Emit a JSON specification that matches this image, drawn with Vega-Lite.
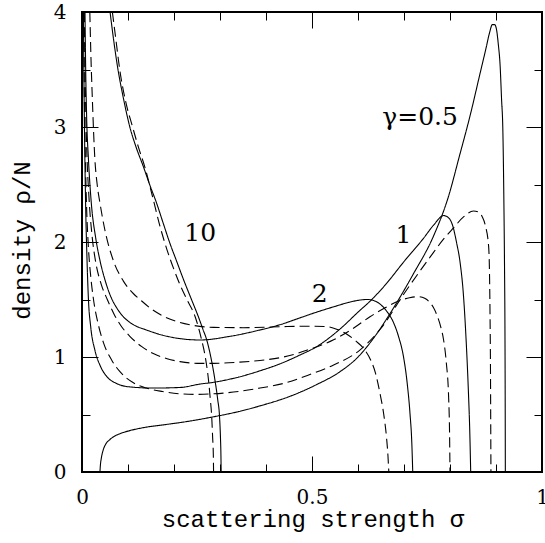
{
  "$schema": "https://vega.github.io/schema/vega-lite/v6.json",
  "width": 460,
  "height": 460,
  "autosize": "none",
  "padding": {"left": 82, "top": 12, "right": 3, "bottom": 71},
  "config": {"view": {"stroke": "black", "strokeWidth": 2}, "font": "DejaVu Serif"},
  "datasets": {
    "curves": [
      {"gamma":"0.5","set":"a","s":0.039,"r":0},{"gamma":"0.5","set":"a","s":0.040,"r":0.06},{"gamma":"0.5","set":"a","s":0.042,"r":0.12},{"gamma":"0.5","set":"a","s":0.046,"r":0.19},{"gamma":"0.5","set":"a","s":0.052,"r":0.245},{"gamma":"0.5","set":"a","s":0.06,"r":0.28},{"gamma":"0.5","set":"a","s":0.068,"r":0.305},{"gamma":"0.5","set":"a","s":0.085,"r":0.337},{"gamma":"0.5","set":"a","s":0.104,"r":0.36},{"gamma":"0.5","set":"a","s":0.14,"r":0.39},{"gamma":"0.5","set":"a","s":0.177,"r":0.41},{"gamma":"0.5","set":"a","s":0.23,"r":0.44},{"gamma":"0.5","set":"a","s":0.286,"r":0.48},{"gamma":"0.5","set":"a","s":0.34,"r":0.525},{"gamma":"0.5","set":"a","s":0.387,"r":0.575},{"gamma":"0.5","set":"a","s":0.45,"r":0.655},{"gamma":"0.5","set":"a","s":0.51,"r":0.76},{"gamma":"0.5","set":"a","s":0.56,"r":0.87},{"gamma":"0.5","set":"a","s":0.60,"r":1.0},{"gamma":"0.5","set":"a","s":0.635,"r":1.17},{"gamma":"0.5","set":"a","s":0.67,"r":1.38},{"gamma":"0.5","set":"a","s":0.72,"r":1.72},{"gamma":"0.5","set":"a","s":0.764,"r":2.05},{"gamma":"0.5","set":"a","s":0.797,"r":2.40},{"gamma":"0.5","set":"a","s":0.82,"r":2.74},{"gamma":"0.5","set":"a","s":0.845,"r":3.12},{"gamma":"0.5","set":"a","s":0.865,"r":3.46},{"gamma":"0.5","set":"a","s":0.878,"r":3.68},{"gamma":"0.5","set":"a","s":0.886,"r":3.82},{"gamma":"0.5","set":"a","s":0.892,"r":3.89},{"gamma":"0.5","set":"a","s":0.897,"r":3.89},{"gamma":"0.5","set":"a","s":0.901,"r":3.85},{"gamma":"0.5","set":"a","s":0.905,"r":3.72},{"gamma":"0.5","set":"a","s":0.909,"r":3.53},{"gamma":"0.5","set":"a","s":0.912,"r":3.25},{"gamma":"0.5","set":"a","s":0.915,"r":2.95},{"gamma":"0.5","set":"a","s":0.917,"r":2.40},{"gamma":"0.5","set":"a","s":0.9185,"r":1.8},{"gamma":"0.5","set":"a","s":0.9195,"r":1.2},{"gamma":"0.5","set":"a","s":0.92,"r":0.6},{"gamma":"0.5","set":"a","s":0.9203,"r":0},

      {"gamma":"1","set":"a","s":0.003,"r":4.0},{"gamma":"1","set":"a","s":0.0045,"r":3.3},{"gamma":"1","set":"a","s":0.006,"r":2.8},{"gamma":"1","set":"a","s":0.008,"r":2.3},{"gamma":"1","set":"a","s":0.0105,"r":1.9},{"gamma":"1","set":"a","s":0.014,"r":1.5},{"gamma":"1","set":"a","s":0.019,"r":1.26},{"gamma":"1","set":"a","s":0.028,"r":1.06},{"gamma":"1","set":"a","s":0.04,"r":0.92},{"gamma":"1","set":"a","s":0.054,"r":0.83},{"gamma":"1","set":"a","s":0.075,"r":0.77},{"gamma":"1","set":"a","s":0.104,"r":0.74},{"gamma":"1","set":"a","s":0.155,"r":0.73},{"gamma":"1","set":"a","s":0.213,"r":0.735},{"gamma":"1","set":"a","s":0.257,"r":0.765},{"gamma":"1","set":"a","s":0.286,"r":0.78},{"gamma":"1","set":"a","s":0.34,"r":0.825},{"gamma":"1","set":"a","s":0.387,"r":0.88},{"gamma":"1","set":"a","s":0.43,"r":0.94},{"gamma":"1","set":"a","s":0.47,"r":1.01},{"gamma":"1","set":"a","s":0.51,"r":1.09},{"gamma":"1","set":"a","s":0.56,"r":1.24},{"gamma":"1","set":"a","s":0.60,"r":1.39},{"gamma":"1","set":"a","s":0.63,"r":1.50},{"gamma":"1","set":"a","s":0.66,"r":1.63},{"gamma":"1","set":"a","s":0.70,"r":1.83},{"gamma":"1","set":"a","s":0.742,"r":2.03},{"gamma":"1","set":"a","s":0.765,"r":2.15},{"gamma":"1","set":"a","s":0.786,"r":2.23},{"gamma":"1","set":"a","s":0.797,"r":2.21},{"gamma":"1","set":"a","s":0.806,"r":2.14},{"gamma":"1","set":"a","s":0.814,"r":2.0},{"gamma":"1","set":"a","s":0.822,"r":1.82},{"gamma":"1","set":"a","s":0.829,"r":1.55},{"gamma":"1","set":"a","s":0.835,"r":1.15},{"gamma":"1","set":"a","s":0.84,"r":0.7},{"gamma":"1","set":"a","s":0.843,"r":0.35},{"gamma":"1","set":"a","s":0.845,"r":0},

      {"gamma":"2","set":"a","s":0.0065,"r":4.0},{"gamma":"2","set":"a","s":0.008,"r":3.5},{"gamma":"2","set":"a","s":0.01,"r":3.1},{"gamma":"2","set":"a","s":0.014,"r":2.72},{"gamma":"2","set":"a","s":0.02,"r":2.35},{"gamma":"2","set":"a","s":0.03,"r":2.03},{"gamma":"2","set":"a","s":0.039,"r":1.84},{"gamma":"2","set":"a","s":0.05,"r":1.67},{"gamma":"2","set":"a","s":0.062,"r":1.53},{"gamma":"2","set":"a","s":0.075,"r":1.43},{"gamma":"2","set":"a","s":0.09,"r":1.35},{"gamma":"2","set":"a","s":0.11,"r":1.285},{"gamma":"2","set":"a","s":0.14,"r":1.235},{"gamma":"2","set":"a","s":0.175,"r":1.19},{"gamma":"2","set":"a","s":0.213,"r":1.16},{"gamma":"2","set":"a","s":0.257,"r":1.148},{"gamma":"2","set":"a","s":0.322,"r":1.18},{"gamma":"2","set":"a","s":0.387,"r":1.235},{"gamma":"2","set":"a","s":0.43,"r":1.28},{"gamma":"2","set":"a","s":0.47,"r":1.335},{"gamma":"2","set":"a","s":0.51,"r":1.39},{"gamma":"2","set":"a","s":0.55,"r":1.44},{"gamma":"2","set":"a","s":0.58,"r":1.475},{"gamma":"2","set":"a","s":0.604,"r":1.495},{"gamma":"2","set":"a","s":0.62,"r":1.50},{"gamma":"2","set":"a","s":0.635,"r":1.49},{"gamma":"2","set":"a","s":0.648,"r":1.46},{"gamma":"2","set":"a","s":0.662,"r":1.40},{"gamma":"2","set":"a","s":0.676,"r":1.31},{"gamma":"2","set":"a","s":0.688,"r":1.18},{"gamma":"2","set":"a","s":0.699,"r":1.0},{"gamma":"2","set":"a","s":0.707,"r":0.77},{"gamma":"2","set":"a","s":0.713,"r":0.51},{"gamma":"2","set":"a","s":0.717,"r":0.25},{"gamma":"2","set":"a","s":0.719,"r":0},

      {"gamma":"10","set":"a","s":0.061,"r":4.0},{"gamma":"10","set":"a","s":0.069,"r":3.75},{"gamma":"10","set":"a","s":0.077,"r":3.53},{"gamma":"10","set":"a","s":0.09,"r":3.25},{"gamma":"10","set":"a","s":0.104,"r":3.0},{"gamma":"10","set":"a","s":0.118,"r":2.82},{"gamma":"10","set":"a","s":0.133,"r":2.66},{"gamma":"10","set":"a","s":0.147,"r":2.5},{"gamma":"10","set":"a","s":0.162,"r":2.34},{"gamma":"10","set":"a","s":0.176,"r":2.17},{"gamma":"10","set":"a","s":0.191,"r":1.99},{"gamma":"10","set":"a","s":0.206,"r":1.83},{"gamma":"10","set":"a","s":0.221,"r":1.67},{"gamma":"10","set":"a","s":0.238,"r":1.5},{"gamma":"10","set":"a","s":0.253,"r":1.35},{"gamma":"10","set":"a","s":0.263,"r":1.24},{"gamma":"10","set":"a","s":0.271,"r":1.15},{"gamma":"10","set":"a","s":0.28,"r":1.0},{"gamma":"10","set":"a","s":0.289,"r":0.80},{"gamma":"10","set":"a","s":0.295,"r":0.63},{"gamma":"10","set":"a","s":0.299,"r":0.48},{"gamma":"10","set":"a","s":0.301,"r":0.3},{"gamma":"10","set":"a","s":0.302,"r":0.15},{"gamma":"10","set":"a","s":0.3025,"r":0},

      {"gamma":"0.5","set":"b","s":0.0035,"r":4.0},{"gamma":"0.5","set":"b","s":0.005,"r":3.3},{"gamma":"0.5","set":"b","s":0.007,"r":2.8},{"gamma":"0.5","set":"b","s":0.01,"r":2.3},{"gamma":"0.5","set":"b","s":0.014,"r":1.95},{"gamma":"0.5","set":"b","s":0.019,"r":1.7},{"gamma":"0.5","set":"b","s":0.025,"r":1.5},{"gamma":"0.5","set":"b","s":0.035,"r":1.29},{"gamma":"0.5","set":"b","s":0.047,"r":1.12},{"gamma":"0.5","set":"b","s":0.065,"r":0.97},{"gamma":"0.5","set":"b","s":0.083,"r":0.87},{"gamma":"0.5","set":"b","s":0.11,"r":0.78},{"gamma":"0.5","set":"b","s":0.14,"r":0.73},{"gamma":"0.5","set":"b","s":0.175,"r":0.70},{"gamma":"0.5","set":"b","s":0.213,"r":0.68},{"gamma":"0.5","set":"b","s":0.25,"r":0.675},{"gamma":"0.5","set":"b","s":0.286,"r":0.68},{"gamma":"0.5","set":"b","s":0.34,"r":0.70},{"gamma":"0.5","set":"b","s":0.387,"r":0.73},{"gamma":"0.5","set":"b","s":0.438,"r":0.77},{"gamma":"0.5","set":"b","s":0.49,"r":0.84},{"gamma":"0.5","set":"b","s":0.547,"r":0.93},{"gamma":"0.5","set":"b","s":0.604,"r":1.06},{"gamma":"0.5","set":"b","s":0.65,"r":1.25},{"gamma":"0.5","set":"b","s":0.70,"r":1.55},{"gamma":"0.5","set":"b","s":0.757,"r":1.87},{"gamma":"0.5","set":"b","s":0.785,"r":2.02},{"gamma":"0.5","set":"b","s":0.807,"r":2.12},{"gamma":"0.5","set":"b","s":0.83,"r":2.22},{"gamma":"0.5","set":"b","s":0.851,"r":2.27},{"gamma":"0.5","set":"b","s":0.862,"r":2.26},{"gamma":"0.5","set":"b","s":0.87,"r":2.22},{"gamma":"0.5","set":"b","s":0.877,"r":2.14},{"gamma":"0.5","set":"b","s":0.884,"r":1.96},{"gamma":"0.5","set":"b","s":0.886,"r":1.7},{"gamma":"0.5","set":"b","s":0.887,"r":1.38},{"gamma":"0.5","set":"b","s":0.888,"r":0.9},{"gamma":"0.5","set":"b","s":0.8885,"r":0.45},{"gamma":"0.5","set":"b","s":0.889,"r":0},

      {"gamma":"1","set":"b","s":0.005,"r":4.0},{"gamma":"1","set":"b","s":0.007,"r":3.4},{"gamma":"1","set":"b","s":0.01,"r":2.85},{"gamma":"1","set":"b","s":0.015,"r":2.4},{"gamma":"1","set":"b","s":0.022,"r":2.05},{"gamma":"1","set":"b","s":0.03,"r":1.82},{"gamma":"1","set":"b","s":0.042,"r":1.63},{"gamma":"1","set":"b","s":0.055,"r":1.5},{"gamma":"1","set":"b","s":0.07,"r":1.37},{"gamma":"1","set":"b","s":0.085,"r":1.27},{"gamma":"1","set":"b","s":0.104,"r":1.18},{"gamma":"1","set":"b","s":0.13,"r":1.09},{"gamma":"1","set":"b","s":0.155,"r":1.03},{"gamma":"1","set":"b","s":0.185,"r":0.985},{"gamma":"1","set":"b","s":0.213,"r":0.96},{"gamma":"1","set":"b","s":0.25,"r":0.945},{"gamma":"1","set":"b","s":0.286,"r":0.945},{"gamma":"1","set":"b","s":0.34,"r":0.955},{"gamma":"1","set":"b","s":0.387,"r":0.97},{"gamma":"1","set":"b","s":0.438,"r":1.0},{"gamma":"1","set":"b","s":0.49,"r":1.06},{"gamma":"1","set":"b","s":0.547,"r":1.15},{"gamma":"1","set":"b","s":0.59,"r":1.25},{"gamma":"1","set":"b","s":0.626,"r":1.35},{"gamma":"1","set":"b","s":0.66,"r":1.43},{"gamma":"1","set":"b","s":0.69,"r":1.49},{"gamma":"1","set":"b","s":0.712,"r":1.515},{"gamma":"1","set":"b","s":0.731,"r":1.525},{"gamma":"1","set":"b","s":0.745,"r":1.51},{"gamma":"1","set":"b","s":0.755,"r":1.48},{"gamma":"1","set":"b","s":0.764,"r":1.43},{"gamma":"1","set":"b","s":0.772,"r":1.36},{"gamma":"1","set":"b","s":0.78,"r":1.26},{"gamma":"1","set":"b","s":0.786,"r":1.15},{"gamma":"1","set":"b","s":0.792,"r":0.95},{"gamma":"1","set":"b","s":0.797,"r":0.65},{"gamma":"1","set":"b","s":0.799,"r":0.35},{"gamma":"1","set":"b","s":0.8,"r":0},

      {"gamma":"2","set":"b","s":0.017,"r":4.0},{"gamma":"2","set":"b","s":0.0195,"r":3.6},{"gamma":"2","set":"b","s":0.022,"r":3.3},{"gamma":"2","set":"b","s":0.028,"r":2.72},{"gamma":"2","set":"b","s":0.033,"r":2.5},{"gamma":"2","set":"b","s":0.039,"r":2.34},{"gamma":"2","set":"b","s":0.05,"r":2.1},{"gamma":"2","set":"b","s":0.068,"r":1.84},{"gamma":"2","set":"b","s":0.09,"r":1.66},{"gamma":"2","set":"b","s":0.112,"r":1.55},{"gamma":"2","set":"b","s":0.126,"r":1.5},{"gamma":"2","set":"b","s":0.15,"r":1.42},{"gamma":"2","set":"b","s":0.177,"r":1.355},{"gamma":"2","set":"b","s":0.205,"r":1.31},{"gamma":"2","set":"b","s":0.235,"r":1.28},{"gamma":"2","set":"b","s":0.286,"r":1.258},{"gamma":"2","set":"b","s":0.35,"r":1.255},{"gamma":"2","set":"b","s":0.438,"r":1.264},{"gamma":"2","set":"b","s":0.5,"r":1.268},{"gamma":"2","set":"b","s":0.532,"r":1.264},{"gamma":"2","set":"b","s":0.555,"r":1.24},{"gamma":"2","set":"b","s":0.575,"r":1.2},{"gamma":"2","set":"b","s":0.595,"r":1.14},{"gamma":"2","set":"b","s":0.615,"r":1.06},{"gamma":"2","set":"b","s":0.628,"r":0.97},{"gamma":"2","set":"b","s":0.638,"r":0.86},{"gamma":"2","set":"b","s":0.648,"r":0.68},{"gamma":"2","set":"b","s":0.656,"r":0.5},{"gamma":"2","set":"b","s":0.662,"r":0.3},{"gamma":"2","set":"b","s":0.665,"r":0.15},{"gamma":"2","set":"b","s":0.667,"r":0},

      {"gamma":"10","set":"b","s":0.066,"r":4.0},{"gamma":"10","set":"b","s":0.074,"r":3.75},{"gamma":"10","set":"b","s":0.082,"r":3.5},{"gamma":"10","set":"b","s":0.095,"r":3.22},{"gamma":"10","set":"b","s":0.11,"r":3.0},{"gamma":"10","set":"b","s":0.123,"r":2.82},{"gamma":"10","set":"b","s":0.136,"r":2.66},{"gamma":"10","set":"b","s":0.153,"r":2.4},{"gamma":"10","set":"b","s":0.17,"r":2.13},{"gamma":"10","set":"b","s":0.185,"r":1.93},{"gamma":"10","set":"b","s":0.2,"r":1.76},{"gamma":"10","set":"b","s":0.214,"r":1.62},{"gamma":"10","set":"b","s":0.228,"r":1.5},{"gamma":"10","set":"b","s":0.246,"r":1.35},{"gamma":"10","set":"b","s":0.26,"r":1.15},{"gamma":"10","set":"b","s":0.268,"r":1.0},{"gamma":"10","set":"b","s":0.275,"r":0.8},{"gamma":"10","set":"b","s":0.279,"r":0.63},{"gamma":"10","set":"b","s":0.282,"r":0.48},{"gamma":"10","set":"b","s":0.284,"r":0.3},{"gamma":"10","set":"b","s":0.2855,"r":0.15},{"gamma":"10","set":"b","s":0.286,"r":0}
    ],
    "labels": [
      {"label": "γ=0.5", "s": 0.735, "r": 3.09},
      {"label": "1", "s": 0.699, "r": 2.06},
      {"label": "2", "s": 0.517, "r": 1.55},
      {"label": "10", "s": 0.257, "r": 2.08}
    ]
  },
  "layer": [
    {
      "data": {"name": "curves"},
      "mark": {"type": "line", "interpolate": "monotone", "clip": true, "color": "black", "strokeWidth": 1.1},
      "encoding": {
        "x": {"field": "s", "type": "quantitative", "scale": {"domain": [0, 1], "nice": false, "zero": false},
          "axis": {"orient": "bottom", "zindex": 1, "values": [0, 0.1, 0.2, 0.3, 0.4, 0.5, 0.6, 0.7, 0.8, 0.9, 1], "format": "~g",
            "labelExpr": "datum.value == 0 || datum.value == 0.5 || datum.value == 1 ? datum.label : ''",
            "ticks": false, "tickSize": 0, "domain": false,
            "grid": true, "gridColor": "black", "gridOpacity": 1, "gridWidth": 1,
            "gridDash": {"condition": {"test": "datum.value == 0.5", "value": [16, 428, 16, 0]}, "value": [8, 444, 8, 0]},
            "labelFont": "DejaVu Serif", "labelFontSize": 20, "labelColor": "black", "labelBaseline": "alphabetic", "labelPadding": 31,
            "labelFlush": false, "labelOverlap": false, "labelBound": false,
            "title": "scattering strength σ", "titleFont": "Liberation Mono", "titleFontSize": 24, "titleFontWeight": "normal", "titleColor": "black",
            "titleBaseline": "alphabetic", "titleAlign": "center", "titleX": 230.5, "titleY": 54}},
        "y": {"field": "r", "type": "quantitative", "scale": {"domain": [0, 4], "nice": false, "zero": false},
          "axis": {"orient": "left", "zindex": 1, "values": [0, 0.5, 1, 1.5, 2, 2.5, 3, 3.5, 4], "format": "~g",
            "labelExpr": "datum.value % 1 == 0 ? datum.label : ''",
            "ticks": false, "tickSize": 0, "domain": false,
            "grid": true, "gridColor": "black", "gridOpacity": 1, "gridWidth": 1,
            "gridDash": {"condition": {"test": "datum.value % 1 == 0", "value": [16, 428, 16, 0]}, "value": [8, 444, 8, 0]},
            "labelFont": "DejaVu Serif", "labelFontSize": 20, "labelColor": "black", "labelPadding": 16,
            "labelFlush": false, "labelOverlap": false, "labelBound": false,
            "title": "density ρ/N", "titleFont": "Liberation Mono", "titleFontSize": 24, "titleFontWeight": "normal", "titleColor": "black",
            "titleAngle": 270, "titleBaseline": "alphabetic", "titleAlign": "center", "titleX": -53, "titleY": 228}},
        "detail": {"field": "gamma", "type": "nominal"},
        "strokeDash": {"field": "set", "type": "nominal", "scale": {"domain": ["a", "b"], "range": [[1, 0], [10, 5]]}, "legend": null}
      }
    },
    {
      "data": {"name": "labels"},
      "mark": {"type": "text", "font": "DejaVu Serif", "fontSize": 25, "align": "center", "baseline": "middle", "color": "black"},
      "encoding": {
        "x": {"field": "s", "type": "quantitative"},
        "y": {"field": "r", "type": "quantitative"},
        "text": {"field": "label", "type": "nominal"}
      }
    }
  ]
}
